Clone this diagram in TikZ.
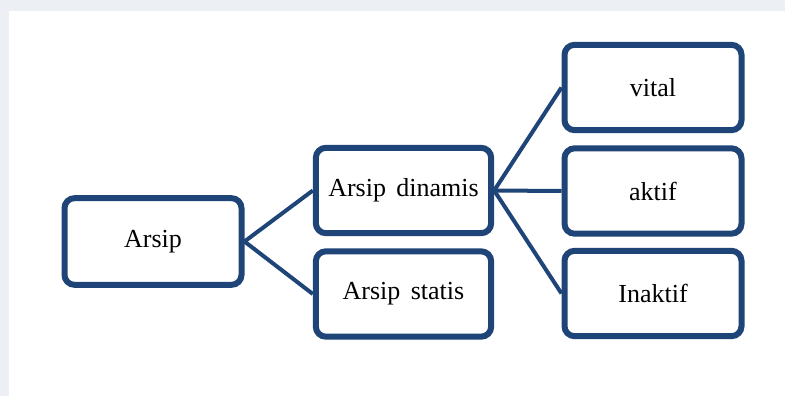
\documentclass[tikz,border=0pt]{standalone}
\usepackage{fontspec}
\setmainfont{Liberation Serif}
\usetikzlibrary{shapes,shadows}
\definecolor{arnavy}{RGB}{31,69,120}
\definecolor{arpage}{RGB}{236,240,245}
\tikzstyle{arbox} = [rectangle, rounded corners=7.5pt, minimum width=131.5pt, minimum height=64pt, text centered, draw=arnavy, fill=white, line width=4.5pt, font=\fontsize{19.5}{23}\selectfont, drop shadow={opacity=0.22, shadow xshift=1.5pt, shadow yshift=-1.8pt}]
\tikzstyle{arlink} = [line width=3pt, color=arnavy]

\begin{document}
\begin{tikzpicture}[x=0.75pt, y=-0.75pt]
% Background
\fill[arpage] (0,0) rectangle (785,396);
\fill[white] (9,11) rectangle (785,396);
\useasboundingbox (0,0) rectangle (785,396);

% Root
\node[arbox, minimum width=132.75pt, minimum height=65pt] (arsip) at (153,241.5) {Arsip};

% Middle level
\node[arbox] (dinamis) at (403.5,190.5) {Arsip\hspace{0.4em}dinamis};
\node[arbox] (statis) at (403.5,294) {Arsip\hspace{0.4em}statis};

% Right level
\node[arbox, minimum width=132.75pt] (vital) at (653,87.5) {vital};
\node[arbox, minimum width=132.75pt] (aktif) at (653,191) {aktif};
\node[arbox, minimum width=132.75pt] (inaktif) at (653,293.5) {Inaktif};

% Links
\draw[arlink] (arsip.east) -- (dinamis.west);
\draw[arlink] (arsip.east) -- (statis.west);
\draw[arlink] (dinamis.east) -- (vital.west);
\draw[arlink] (dinamis.east) -- (aktif.west);
\draw[arlink] (dinamis.east) -- (inaktif.west);
\end{tikzpicture}
\end{document}
